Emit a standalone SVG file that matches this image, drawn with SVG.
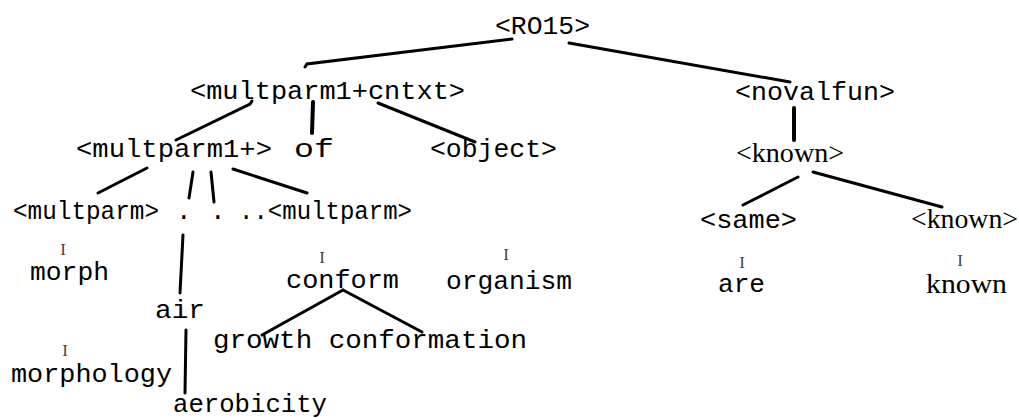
<svg xmlns="http://www.w3.org/2000/svg" width="1019" height="418" viewBox="0 0 1019 418">
<style>
.t{font-family:"Liberation Mono","DejaVu Sans Mono",monospace;font-size:26px;fill:#000}
.s{font-family:"Liberation Serif","DejaVu Serif",serif;font-size:27px;fill:#000}
.i{font-family:"Liberation Serif","DejaVu Serif",serif;font-size:17px;fill:#444;text-anchor:middle}
.c line,.c path{stroke:#000;stroke-width:3;stroke-linecap:round;fill:none}
</style>
<rect width="1019" height="418" fill="#fff"/>
<g class="c" id="connectors">
<path d="M512 39 L307 64 L305 67"/>
<line x1="569" y1="43" x2="790" y2="82"/>
<path d="M252 101 L250 104 L176 140"/>
<line x1="313" y1="102" x2="312" y2="133" style="stroke-width:4"/>
<line x1="378" y1="103" x2="475" y2="142"/>
<line x1="794" y1="108" x2="794" y2="140" style="stroke-width:4"/>
<line x1="798" y1="177" x2="743" y2="205"/>
<line x1="813" y1="172" x2="942" y2="207"/>
<line x1="147" y1="168" x2="98" y2="193"/>
<line x1="193" y1="172" x2="189" y2="198"/>
<line x1="211" y1="172" x2="214" y2="202"/>
<line x1="233" y1="169" x2="307" y2="193"/>
<line x1="183" y1="235" x2="180" y2="293"/>
<line x1="186" y1="330" x2="185" y2="393"/>
<line x1="343" y1="290" x2="262" y2="335"/>
<line x1="343" y1="290" x2="422" y2="332"/>
</g>
<g id="n_ro15"><text class="t" x="495" y="34" textLength="95" lengthAdjust="spacingAndGlyphs">&lt;RO15&gt;</text></g>
<g id="n_mpcntxt"><text class="t" x="190" y="99" textLength="275" lengthAdjust="spacingAndGlyphs">&lt;multparm1+cntxt&gt;</text></g>
<g id="n_novalfun"><text class="t" x="735" y="100" textLength="160" lengthAdjust="spacingAndGlyphs">&lt;novalfun&gt;</text></g>
<g id="n_mp1plus"><text class="t" x="76" y="157" textLength="196" lengthAdjust="spacingAndGlyphs">&lt;multparm1+&gt;</text></g>
<g id="n_of"><text class="t" x="294" y="157" textLength="40" lengthAdjust="spacingAndGlyphs">of</text></g>
<g id="n_object"><text class="t" x="430" y="157" textLength="127" lengthAdjust="spacingAndGlyphs">&lt;object&gt;</text></g>
<g id="n_known1"><text class="s" x="736" y="162" textLength="108" lengthAdjust="spacingAndGlyphs">&lt;known&gt;</text></g>
<g id="n_multparm1"><text class="t" x="13" y="219" textLength="146" lengthAdjust="spacingAndGlyphs">&lt;multparm&gt;</text></g>
<g id="n_multparm2"><text class="t" y="219"><tspan x="176">.</tspan><tspan x="210">.</tspan><tspan x="239" textLength="173" lengthAdjust="spacingAndGlyphs">..&lt;multparm&gt;</tspan></text></g>
<g id="n_same"><text class="t" x="700" y="228" textLength="97" lengthAdjust="spacingAndGlyphs">&lt;same&gt;</text></g>
<g id="n_known2"><text class="s" x="911" y="228" textLength="107" lengthAdjust="spacingAndGlyphs">&lt;known&gt;</text></g>
<g id="n_morph"><text class="i" x="63" y="255">I</text><text class="t" x="30" y="280" textLength="79" lengthAdjust="spacingAndGlyphs">morph</text></g>
<g id="n_conform"><text class="i" x="322" y="263">I</text><text class="t" x="286" y="288" textLength="113" lengthAdjust="spacingAndGlyphs">conform</text></g>
<g id="n_organism"><text class="i" x="506" y="260">I</text><text class="t" x="446" y="289" textLength="126" lengthAdjust="spacingAndGlyphs">organism</text></g>
<g id="n_are"><text class="i" x="742" y="268">I</text><text class="t" x="718" y="292" textLength="47" lengthAdjust="spacingAndGlyphs">are</text></g>
<g id="n_known3"><text class="i" x="960" y="266">I</text><text class="s" x="926" y="293" textLength="81" lengthAdjust="spacingAndGlyphs">known</text></g>
<g id="n_air"><text class="t" x="155" y="318" textLength="50" lengthAdjust="spacingAndGlyphs">air</text></g>
<g id="n_growth"><text class="t" x="213" y="348" textLength="314" lengthAdjust="spacingAndGlyphs">growth conformation</text></g>
<g id="n_morphology"><text class="i" x="65" y="356">I</text><text class="t" x="11" y="382" textLength="161" lengthAdjust="spacingAndGlyphs">morphology</text></g>
<g id="n_aerobicity"><text class="t" x="173" y="412" textLength="154" lengthAdjust="spacingAndGlyphs">aerobicity</text></g>
</svg>
